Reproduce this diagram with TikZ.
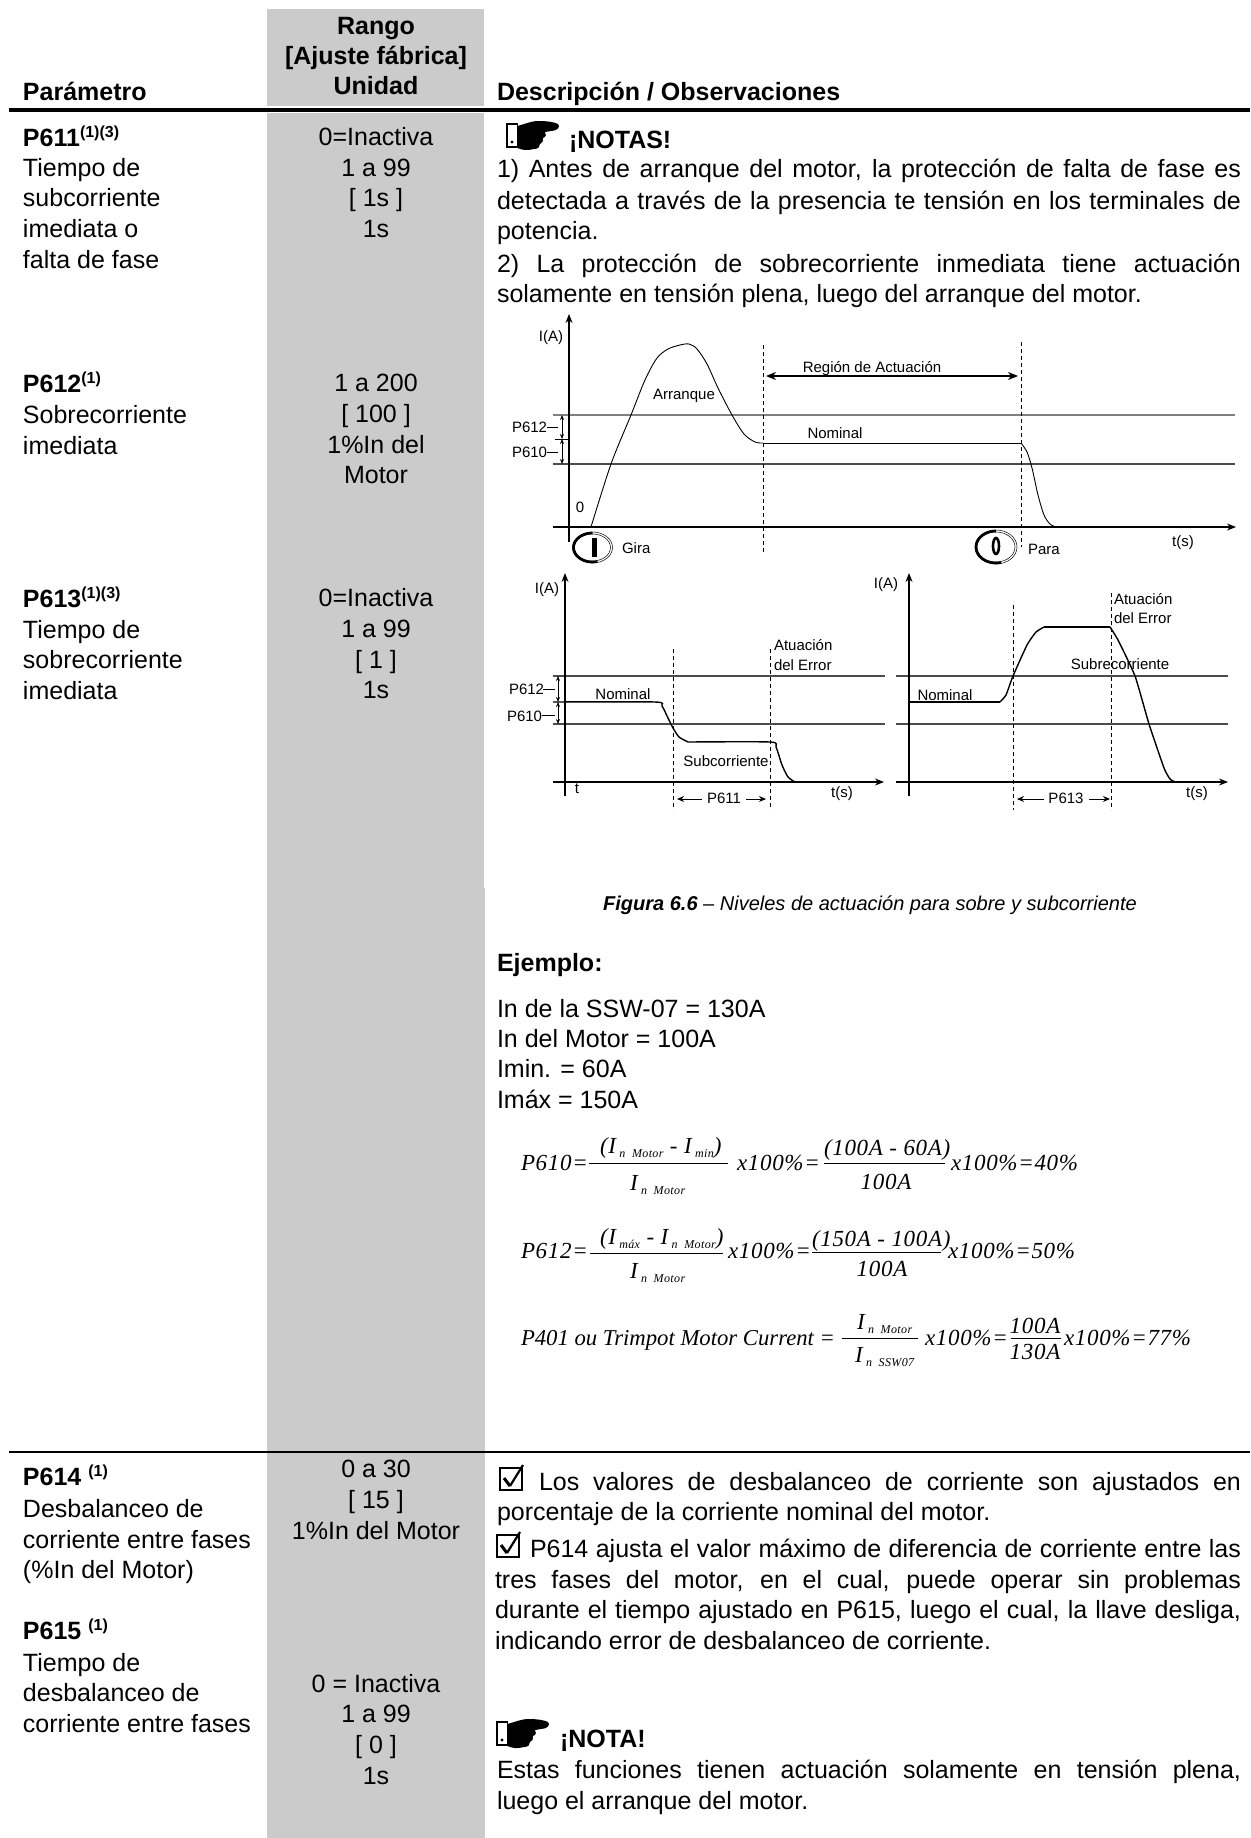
\documentclass[tikz,border=0pt]{standalone}
\usepackage{fontspec}
\setmainfont{Liberation Sans}
\newfontfamily\serf[LetterSpace=3]{Liberation Serif}
\newfontfamily\serfplain{Liberation Serif}
\usetikzlibrary{arrows.meta}
\definecolor{colgray}{HTML}{CBCBCB}
\tikzset{
  txt/.style={anchor=base west,inner sep=0pt,outer sep=0pt,font=\fontsize{25}{30}\selectfont},
  ctr/.style={anchor=base,inner sep=0pt,outer sep=0pt,font=\fontsize{25}{30}\selectfont},
  btxt/.style={txt,font=\fontsize{25}{30}\selectfont\bfseries},
  bctr/.style={ctr,font=\fontsize{25}{30}\selectfont\bfseries},
  sm/.style={anchor=base west,inner sep=0pt,outer sep=0pt,font=\fontsize{15}{18}\selectfont},
  smc/.style={anchor=base,inner sep=0pt,outer sep=0pt,font=\fontsize{15}{18}\selectfont},
  fx/.style={anchor=base west,inner sep=0pt,outer sep=0pt,font=\fontsize{23}{26}\serf\itshape},
  fxc/.style={anchor=base,inner sep=0pt,outer sep=0pt,font=\fontsize{23}{26}\serf\itshape},
  fxp/.style={anchor=base west,inner sep=0pt,outer sep=0pt,font=\fontsize{22.7}{26}\serfplain\itshape},
  axis/.style={line width=1.2pt,-{Stealth[length=9pt,width=7pt]}},
  level/.style={line width=1.2pt,black!70},
  curve/.style={line width=0.9pt},
  tcurve/.style={line width=1.4pt},
  vdash/.style={line width=1pt,dash pattern=on 4pt off 3pt},
  marr/.style={line width=0.8pt,{Stealth[length=5pt,width=4pt]}-{Stealth[length=5pt,width=4pt]}},
  harr/.style={line width=1pt,-{Stealth[length=7pt,width=6pt]}},
  fbar/.style={line width=0.9pt},
  hand/.pic={
    \draw[line width=1.3pt,fill=white] (0,0) rectangle (10.5,23);
    \fill (5,18) circle (1.7);
    \fill (10.5,2) .. controls (18,0) and (24,-3) .. (32,-3) .. controls (40,-3) and (47,-2) .. (51,0)
      .. controls (54,3) and (50,7) .. (44,7) -- (38,8) .. controls (40,10) and (39,13) .. (36,14)
      .. controls (37,17) and (35,19) .. (33,20) .. controls (33,23) and (31,25) .. (27,25)
      .. controls (20,27) and (15,26) .. (10.5,24) -- cycle;
  },
  cbox/.pic={
    \draw[line width=1.7pt] (0,0) rectangle (22,22);
    \draw[line width=3pt] (4,10) -- (10,18);
    \draw[line width=2.2pt] (10,18) -- (23,-3);
  }
}
\newcommand{\sps}[1]{\raisebox{9pt}{\fontsize{16}{16}\selectfont #1}}
\newcommand{\jl}[2]{\hbox to #1pt{#2}}
\newcommand{\Isub}[1]{I\raisebox{-4pt}{\fontsize{12}{12}\selectfont\ #1}}
\begin{document}
\begin{tikzpicture}[x=1pt,y=-1pt]
\useasboundingbox (0,0) rectangle (1250,1838);
\fill[white] (0,0) rectangle (1250,1838);
% grey column
\fill[colgray] (267,9) rectangle (484,888);
\fill[colgray] (267,888) rectangle (485,1838);
% rules
\fill[white] (267,106) rectangle (485,113);
\fill[black] (9,108) rectangle (1250,112.5);
\fill[black] (9,1451) rectangle (1250,1453.4);
% headers
\node[btxt] at (23,101) {Parámetro};
\node[bctr] at (376,35) {Rango};
\node[bctr] at (376,65) {[Ajuste fábrica]};
\node[bctr] at (376,95) {Unidad};
\node[btxt] at (497,101) {Descripción / Observaciones};
% left column
\node[btxt] at (23,147) {P611\sps{(1)(3)}};
\node[txt] at (23,177) {Tiempo de};
\node[txt] at (23,207) {subcorriente};
\node[txt] at (23,237) {imediata o};
\node[txt] at (23,268) {falta de fase};
\node[btxt] at (23,392) {P612\sps{(1)}};
\node[txt] at (23,423) {Sobrecorriente};
\node[txt] at (23,454) {imediata};
\node[btxt] at (23,607) {P613\sps{(1)(3)}};
\node[txt] at (23,638) {Tiempo de};
\node[txt] at (23,668) {sobrecorriente};
\node[txt] at (23,699) {imediata};
\node[btxt] at (23,1485) {P614 \sps{(1)}};
\node[txt] at (23,1517) {Desbalanceo de};
\node[txt] at (23,1548) {corriente entre fases};
\node[txt] at (23,1578) {(\%In del Motor)};
\node[btxt] at (23,1639) {P615 \sps{(1)}};
\node[txt] at (23,1671) {Tiempo de};
\node[txt] at (23,1701) {desbalanceo de};
\node[txt] at (23,1732) {corriente entre fases};
% middle column
\node[ctr] at (376,146) {0=Inactiva};
\node[ctr] at (376,177) {1 a 99};
\node[ctr] at (376,207) {[ 1s ]};
\node[ctr] at (376,237) {1s};
\node[ctr] at (376,391) {1 a 200};
\node[ctr] at (376,422) {[ 100 ]};
\node[ctr] at (376,453) {1\%In del};
\node[ctr] at (376,483) {Motor};
\node[ctr] at (376,606) {0=Inactiva};
\node[ctr] at (376,637) {1 a 99};
\node[ctr] at (376,668) {[ 1 ]};
\node[ctr] at (376,698) {1s};
\node[ctr] at (376,1477) {0 a 30};
\node[ctr] at (376,1508) {[ 15 ]};
\node[ctr] at (376,1539) {1\%In del Motor};
\node[ctr] at (376,1692) {0 = Inactiva};
\node[ctr] at (376,1722) {1 a 99};
\node[ctr] at (376,1753) {[ 0 ]};
\node[ctr] at (376,1784) {1s};
% right column: notes
\pic at (507,124) {hand};
\node[btxt] at (569,149) {¡NOTAS!};
\node[txt] at (497,178) {\jl{744}{1) Antes de arranque del motor, la protección de falta de fase es}};
\node[txt] at (497,209) {\jl{744}{detectada a través de la presencia te tensión en los terminales de}};
\node[txt] at (497,239) {potencia.};
\node[txt] at (497,272) {\jl{744}{2) La protección de sobrecorriente inmediata tiene actuación}};
\node[txt] at (497,302) {solamente en tensión plena, luego del arranque del motor.};
% graph 1
\draw[level,black!50,line width=1.8pt] (553,415) -- (1235,415);
\draw[level] (553,464) -- (1235,464);
\draw[line width=0.8pt] (555,439) -- (569,439);
\draw[axis] (569,542) -- (569,314);
\draw[axis] (553,527) -- (1236,527);
\draw[curve] plot[smooth,tension=0.5] coordinates {(591,527) (611,464) (631,415) (645,380) (657,358) (668,349) (680,345) (689,344) (697,349) (707,364) (718,388) (732,415) (744,434) (755,442) (763,443)};
\draw[curve] (763,443) -- (1021,443);
\draw[curve] plot[smooth,tension=0.5] coordinates {(1021,443) (1027,452) (1032,468) (1038,495) (1044,515) (1050,524) (1056,527)};
\draw[tcurve] (1056,527) -- (1218,527);
\draw[vdash] (763,345) -- (763,552);
\draw[vdash] (1021,342) -- (1021,547);
\draw[line width=1.4pt,{Stealth[length=10pt,width=8pt]}-{Stealth[length=10pt,width=8pt]}] (766,376) -- (1018,376);
\draw[marr] (562,415) -- (562,439);
\draw[marr] (562,439) -- (562,464);
\node[smc] at (551,341) {I(A)};
\node[smc] at (872,372) {Región de Actuación};
\node[smc] at (684,399) {Arranque};
\node[smc] at (835,438) {Nominal};
\node[sm] at (512,432) {P612};
\draw[line width=0.9pt] (547,427) -- (558,427);
\node[sm] at (512,457) {P610};
\draw[line width=0.9pt] (547,452) -- (558,452);
\node[smc] at (580,512) {0};
\node[sm] at (622,553) {Gira};
\node[sm] at (1028,554) {Para};
\node[smc] at (1183,546) {t(s)};
% buttons
\draw[line width=0.5pt] (592.5,547.5) ellipse (20 and 15.5);
\draw[line width=0.5pt] (592.5,547.5) ellipse (18 and 13.5);
\draw[line width=2.6pt] plot[domain=75:270,samples=40] ({592.5+19*cos(\x)},{547.5+14.5*sin(\x)});
\fill (592,538) rectangle (597,557);
\draw[line width=0.5pt] (996,547) ellipse (21 and 17);
\draw[line width=0.5pt] (996,547) ellipse (19 and 15);
\draw[line width=2.6pt] plot[domain=75:270,samples=40] ({996+20*cos(\x)},{547+16*sin(\x)});
\draw[line width=2.6pt] (996,546) ellipse (3 and 8);
% graph 2
\draw[level] (553,676) -- (885,676);
\draw[level] (553,724) -- (885,724);
\draw[axis] (565,796) -- (565,573);
\draw[axis] (553,782) -- (884,782);
\draw[tcurve] plot[smooth,tension=0.4] coordinates {(553,702) (655,702) (662,706) (668,718) (673,728) (679,737) (688,742)};
\draw[tcurve] plot[smooth,tension=0.4] coordinates {(688,742) (770,742) (776,747) (782,765) (788,777) (795,782)};
\draw[tcurve] (795,782) -- (871,782);
\draw[vdash,line width=0.7pt] (673,649) -- (673,810);
\draw[vdash,line width=0.7pt] (770,649) -- (770,810);
\draw[marr] (558,676) -- (558,702);
\draw[marr] (558,702) -- (558,724);
\node[smc] at (547,593) {I(A)};
\node[smc] at (623,699) {Nominal};
\node[sm] at (774,650) {Atuación};
\node[sm] at (774,670) {del Error};
\node[smc] at (726,766) {Subcorriente};
\node[smc] at (577,793) {t};
\node[smc] at (842,797) {t(s)};
\node[sm] at (509,694) {P612};
\draw[line width=0.9pt] (543,689) -- (555,689);
\node[sm] at (507,721) {P610};
\draw[line width=0.9pt] (542,715) -- (555,715);
\node[smc] (p611) at (724,803) {P611};
\draw[harr] (702,799) -- (677,799);
\draw[harr] (746,799) -- (766,799);
% graph 3
\draw[level] (896,676) -- (1228,676);
\draw[level] (896,724) -- (1228,724);
\draw[axis] (909,796) -- (909,573);
\draw[axis] (896,782) -- (1228,782);
\draw[tcurve] (909,702) -- (1000,702);
\draw[tcurve] plot[smooth,tension=0.3] coordinates {(1000,702) (1006,695) (1013,676) (1027,645) (1036,632) (1044,627)};
\draw[tcurve] (1044,627) -- (1110,627);
\draw[tcurve] plot[smooth,tension=0.3] coordinates {(1110,627) (1118,640) (1135,676) (1149,724) (1164,768) (1170,779) (1175,782)};
\draw[tcurve] (1175,782) -- (1212,782);
\draw[vdash,line width=0.7pt] (1013,605) -- (1013,810);
\draw[vdash,line width=0.7pt] (1111,593) -- (1111,810);
\node[smc] at (886,588) {I(A)};
\node[sm] at (1114,604) {Atuación};
\node[sm] at (1114,623) {del Error};
\node[smc] at (1120,669) {Subrecorriente};
\node[smc] at (945,700) {Nominal};
\node[smc] at (1197,797) {t(s)};
\node[smc] (p613) at (1066,803) {P613};
\draw[harr] (1044,799) -- (1017,799);
\draw[harr] (1089,799) -- (1110,799);
% caption
\node[anchor=base,inner sep=0pt,font=\fontsize{20}{24}\selectfont\itshape] at (870,910) {\textbf{Figura 6.6} – Niveles de actuación para sobre y subcorriente};
% example
\node[btxt] at (497,971) {Ejemplo:};
\node[txt] at (497,1017) {In de la SSW-07 = 130A};
\node[txt] at (497,1047) {In del Motor = 100A};
\node[txt] at (497,1077) {Imin. = 60A};
\node[txt] at (497,1108) {Imáx = 150A};
% formula 1
\node[fx] at (521,1170) {P610=};
\node[fx] at (600,1153) {(\Isub{n\ \ Motor} - \Isub{min})};
\draw[fbar] (589,1163) -- (728,1163);
\node[fx] at (630,1190) {\Isub{n\ \ Motor}};
\node[fx] at (737,1170) {x100\%=};
\node[fx] at (824,1155) {(100A - 60A)};
\draw[fbar] (824,1163) -- (945,1163);
\node[fxc] at (886,1189) {100A};
\node[fx] at (951,1170) {x100\%=40\%};
% formula 2
\node[fx] at (521,1258) {P612=};
\node[fx] at (600,1244) {(\Isub{máx} - \Isub{n\ \ Motor})};
\draw[fbar] (590,1253) -- (723,1253);
\node[fx] at (630,1278) {\Isub{n\ \ Motor}};
\node[fx] at (728,1258) {x100\%=};
\node[fx] at (812,1246) {(150A - 100A)};
\draw[fbar] (812,1252) -- (941,1252);
\node[fxc] at (882,1276) {100A};
\node[fx] at (948,1258) {x100\%=50\%};
% formula 3
\node[fxp] at (521,1345) {P401 ou Trimpot Motor Current =};
\node[fx] at (857,1329) {\Isub{n\ \ Motor}};
\draw[fbar] (842,1338) -- (918,1338);
\node[fx] at (855,1362) {\Isub{n\ \ SSW07}};
\node[fx] at (925,1345) {x100\%=};
\node[fxc] at (1035,1333) {100A};
\draw[fbar] (1011,1338) -- (1061,1338);
\node[fxc] at (1035,1359) {130A};
\node[fx] at (1064,1345) {x100\%=77\%};
% lower notes
\pic at (500,1468) {cbox};
\node[txt] at (539,1490) {\jl{702}{Los valores de desbalanceo de corriente son ajustados en}};
\node[txt] at (497,1520) {porcentaje de la corriente nominal del motor.};
\pic at (497,1535) {cbox};
\node[txt] at (530,1557) {\jl{711}{P614 ajusta el valor máximo de diferencia de corriente entre las}};
\node[txt] at (495,1588) {\jl{746}{tres fases del motor, en el cual, puede operar sin problemas}};
\node[txt] at (495,1618) {\jl{746}{durante el tiempo ajustado en P615, luego el cual, la llave desliga,}};
\node[txt] at (495,1649) {indicando error de desbalanceo de corriente.};
\pic at (497,1722) {hand};
\node[btxt] at (560,1747) {¡NOTA!};
\node[txt] at (497,1778) {\jl{744}{Estas funciones tienen actuación solamente en tensión plena,}};
\node[txt] at (497,1809) {luego el arranque del motor.};
\end{tikzpicture}
\end{document}
